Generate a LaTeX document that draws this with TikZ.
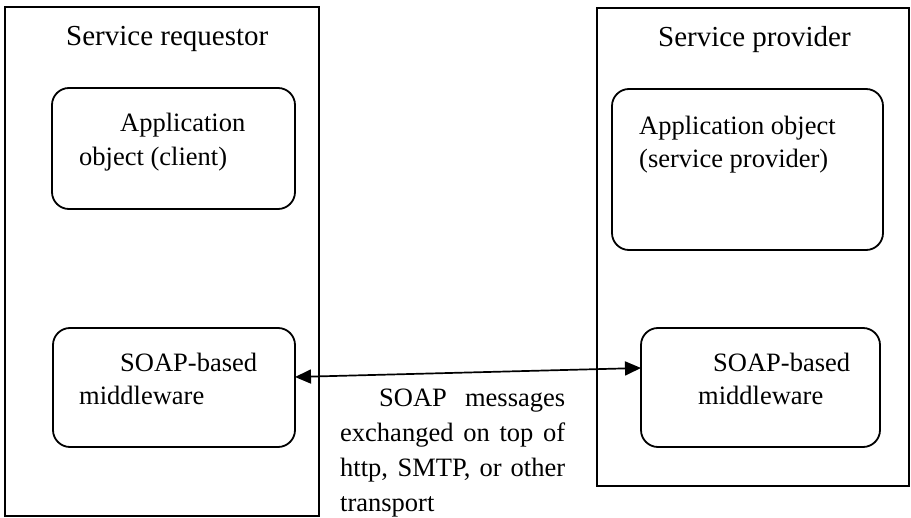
\documentclass[tikz,border=0pt]{standalone}
\usepackage{fontspec}
\setmainfont{Liberation Serif}
\usetikzlibrary{arrows.meta}
\begin{document}
\begin{tikzpicture}[x=1pt,y=-1pt,
  frame/.style={draw,line width=1.8pt,inner sep=0pt,outer sep=0pt},
  part/.style={frame,rounded corners=17pt},
  title/.style={anchor=base west,inner sep=0pt,font=\fontsize{29}{35}\selectfont},
  label/.style={anchor=base west,inner sep=0pt,font=\fontsize{26.5}{34}\selectfont},
  link/.style={line width=1.7pt,{Triangle[length=16pt,width=14pt]}-{Triangle[length=16pt,width=14pt]}}]
\useasboundingbox (0,0) rectangle (911,518);

% requestor side
\node[frame,minimum width=314pt,minimum height=509pt] (req) at (162,261.5) {};
\node[title] (reqt) at (66,46) {Service requestor};
\node[part,minimum width=243pt,minimum height=121pt] (capp) at (173.5,148.5) {};
\node[label] (capp1) at (120,132) {Application};
\node[label] (capp2) at (79,166) {object (client)};
\node[part,minimum width=242pt,minimum height=119pt] (cmw) at (174,387.5) {};
\node[label] (cmw1) at (120,372) {SOAP-based};
\node[label] (cmw2) at (79,405) {middleware};

% provider side
\node[frame,minimum width=312pt,minimum height=478pt] (prov) at (753,247) {};
\node[title] (provt) at (658,47) {Service provider};
\node[part,minimum width=271pt,minimum height=161pt] (sapp) at (747.5,169.5) {};
\node[label] (sapp1) at (639,135) {Application object};
\node[label] (sapp2) at (639,168) {(service provider)};
\node[part,minimum width=239pt,minimum height=119pt] (smw) at (760.5,387.5) {};
\node[label] (smw1) at (713,372) {SOAP-based};
\node[label] (smw2) at (698,405) {middleware};

% message exchange
\draw[link] ([yshift=10.5pt]cmw.east) -- ([yshift=19.5pt]smw.west);
\node[anchor=base west,inner sep=0pt,text width=225pt,align=justify,
      font=\fontsize{26.5}{35}\selectfont] (msg) at (340,407)
  {\hspace*{39pt}SOAP messages\linebreak exchanged on top of\linebreak http, SMTP, or other\linebreak transport};
\end{tikzpicture}
\end{document}
